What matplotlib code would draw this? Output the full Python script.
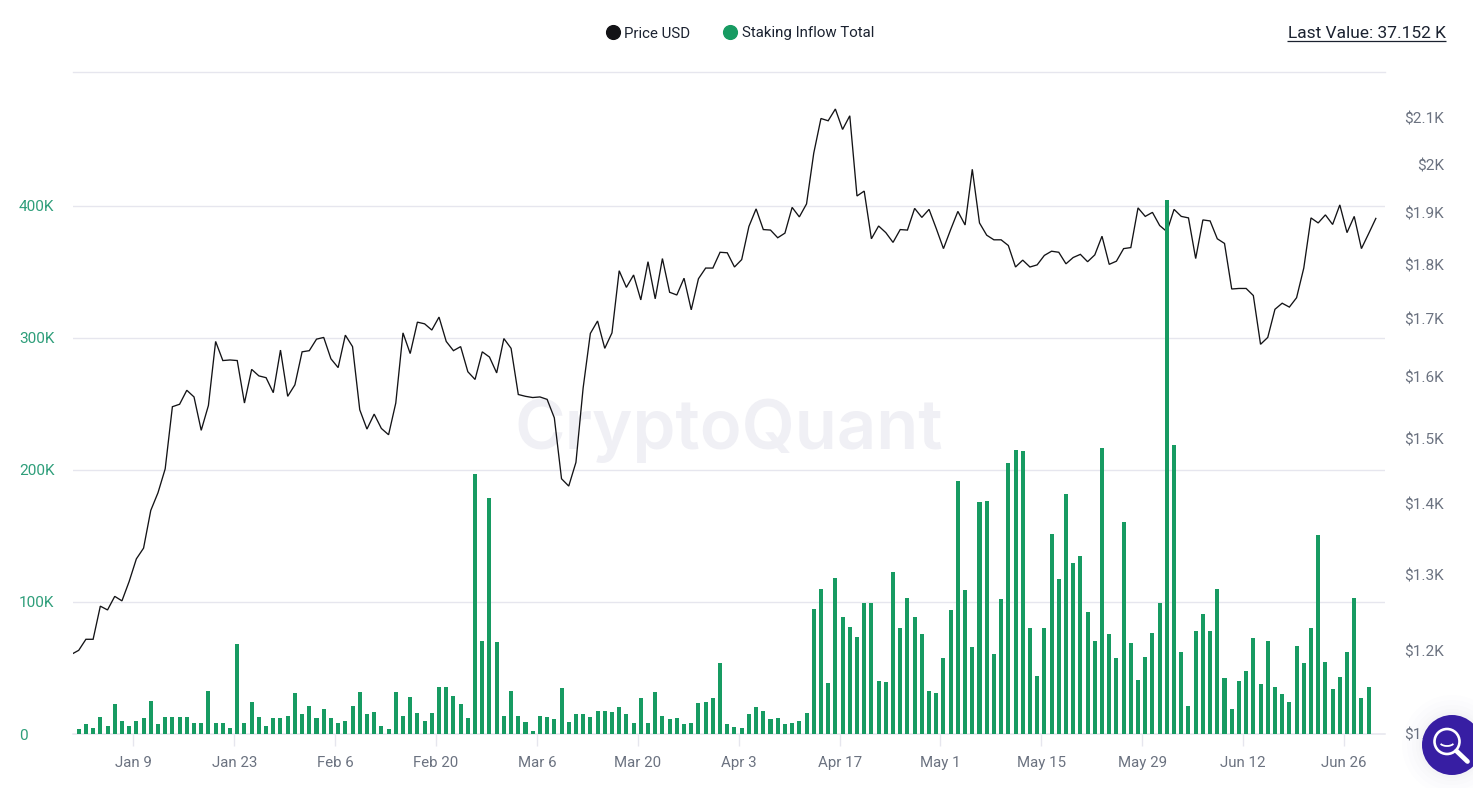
import matplotlib
matplotlib.use("Agg")
import matplotlib.pyplot as plt
import matplotlib.dates as mdates
from matplotlib.lines import Line2D
from matplotlib.patches import Circle, Arc
from matplotlib.ticker import FixedLocator, FixedFormatter, NullLocator
import pandas as pd

plt.rcParams["font.family"] = "Roboto"

# Daily price, Dec 31 2022 to Jun 30 2023 (USD)
price_usd = [
    1196, 1201, 1215, 1215, 1258, 1253, 1271, 1265, 1291, 1322, 1337, 1391, 1417, 1453, 1551, 1555,
    1578, 1567, 1513, 1553, 1661, 1628, 1629, 1628, 1557, 1613, 1602, 1599, 1574, 1646, 1568, 1587,
    1643, 1645, 1665, 1668, 1631, 1616, 1672, 1652, 1546, 1515, 1539, 1516, 1506, 1557,
    1676, 1640, 1695, 1692, 1681, 1704, 1661, 1645, 1652, 1609, 1596, 1643, 1634, 1607, 1666, 1649,
    1571, 1568, 1566, 1567, 1563, 1533, 1438, 1427, 1463, 1582, 1675, 1697, 1649, 1676, 1789, 1758,
    1781, 1735, 1806, 1737, 1812, 1749, 1744, 1775, 1717, 1774, 1794, 1794, 1824, 1823, 1796,
    1810, 1874, 1909, 1868, 1867, 1852, 1861, 1912, 1893, 1919, 2024, 2099, 2094, 2120, 2075, 2105,
    1935, 1945, 1850, 1875, 1862, 1843, 1868, 1867, 1910, 1892, 1908, 1870, 1831, 1868, 1904, 1877,
    1990, 1881, 1857, 1848, 1848, 1837, 1796, 1809, 1796, 1800, 1818, 1826, 1824, 1802, 1814,
    1820, 1806, 1819, 1855, 1801, 1807, 1831, 1833, 1911, 1894, 1902, 1876, 1864, 1908, 1894, 1891,
    1812, 1887, 1885, 1850, 1841, 1755, 1756, 1756, 1743, 1656, 1668, 1718, 1729, 1722, 1739, 1794,
    1891, 1881, 1897, 1878, 1917, 1862, 1894, 1831, 1860, 1890,
]

# Daily staking inflow, Jan 1 to Jun 29 2023 (thousands)
staking_inflow_k = [
    3.5, 7.3, 4.6, 13.2, 6.3, 22.5, 10.1, 6.3, 10.1, 12.1, 25.3, 7.3, 13.2, 13.2, 13.2, 13.2,
    8.3, 8.3, 32.9, 8.3, 8.3, 4.6, 68.0, 8.3, 24.3, 13.2, 6.3, 12.1, 12.1, 13.9, 31.1, 14.9,
    21.5, 12.1, 18.7, 12.1, 8.3, 10.1, 21.5, 31.9, 14.9, 17.0, 6.3, 3.5, 31.9,
    13.9, 28.3, 15.9, 10.1, 15.9, 35.9, 35.9, 29.1, 22.5, 12.1, 197.3, 70.8, 179.0, 70.0, 13.9, 32.9,
    13.9, 9.1, 2.5, 13.9, 13.2, 11.1, 34.7, 9.1, 14.9, 14.9, 13.2, 17.7, 17.7, 17.0, 20.7, 14.9,
    8.3, 27.3, 8.3, 31.9, 13.9, 11.1, 12.1, 7.3, 8.3, 23.5, 24.5, 27.3, 53.9, 7.3, 5.6,
    4.6, 14.9, 20.7, 17.7, 11.1, 12.1, 7.3, 8.3, 10.1, 15.9, 94.6, 109.8, 38.5, 118.1, 88.8, 81.2,
    73.6, 99.2, 99.2, 40.5, 39.5, 123.0, 80.2, 103.0, 88.8, 75.4, 32.9, 30.9, 57.4, 93.6, 192.0,
    108.8, 66.0, 176.0, 176.8, 60.5, 102.2, 205.6, 215.5, 214.7, 80.2, 44.3, 80.2, 151.7, 117.1,
    182.0, 129.5, 135.0, 92.6, 70.8, 217.0, 75.4, 57.4, 160.8, 68.8, 41.0, 58.4, 76.4, 99.2, 404.4,
    219.3, 62.2, 21.5, 78.4, 90.8, 78.4, 109.8, 42.3, 18.7, 40.5, 48.1, 72.6, 37.7, 70.8, 35.7,
    30.1, 24.5, 67.0, 53.6, 80.2, 151.0, 54.6, 33.9, 43.3, 62.2, 103.0, 27.3, 35.9,
]

date_ticks = ["2023-01-09", "2023-01-23", "2023-02-06", "2023-02-20", "2023-03-06", "2023-03-20",
              "2023-04-03", "2023-04-17", "2023-05-01", "2023-05-15", "2023-05-29", "2023-06-12",
              "2023-06-26"]
date_labels = ["Jan 9", "Jan 23", "Feb 6", "Feb 20", "Mar 6", "Mar 20", "Apr 3", "Apr 17",
               "May 1", "May 15", "May 29", "Jun 12", "Jun 26"]
inflow_ticks = [0, 100, 200, 300, 400]
inflow_labels = ["0", "100K", "200K", "300K", "400K"]
price_ticks = [1100, 1200, 1300, 1400, 1500, 1600, 1700, 1800, 1900, 2000, 2100]
price_labels = ["$1.1K", "$1.2K", "$1.3K", "$1.4K", "$1.5K", "$1.6K", "$1.7K", "$1.8K", "$1.9K", "$2K", "$2.1K"]

GREEN = "#179b62"
BLACK = "#131316"
GRID = "#e6e6ee"
W, H = 1473, 788

price_dates = pd.date_range("2022-12-31 10:00", periods=len(price_usd), freq="D")
bar_dates = pd.date_range("2023-01-01 10:00", periods=len(staking_inflow_k), freq="D")

fig = plt.figure(figsize=(W / 100, H / 100), dpi=100, facecolor="white")
rect = [73 / W, 1 - 734 / H, (1385 - 73) / W, (734 - 72) / H]

ax_price = fig.add_axes(rect, zorder=1)
ax = ax_price.twinx()
ax.set_zorder(2)
ax.patch.set_visible(False)
ax_price.patch.set_facecolor("white")

# The price axis sits on the right, the inflow axis on the left
ax.yaxis.tick_left()
ax_price.yaxis.tick_right()

ax_price.text(729, H - 449, "CryptoQuant", transform=None, ha="center", va="baseline",
              fontfamily="Inter", fontweight="semibold", fontsize=49.5, color="#f0f0f5", zorder=0)

ax_price.plot(price_dates, price_usd, color=BLACK, lw=0.95, zorder=3, solid_joinstyle="miter")
ax_price.set_yscale("log")
ax_price.set_ylim(1100, 2204)
ax_price.yaxis.set_major_locator(FixedLocator(price_ticks))
ax_price.yaxis.set_major_formatter(FixedFormatter(price_labels))
ax_price.yaxis.set_minor_locator(NullLocator())
ax_price.tick_params(axis="y", which="both", length=0, pad=42.5, labelsize=11.1, labelcolor="#6b7280")
for t in ax_price.get_yticklabels():
    t.set_ha("right")

ax.bar(bar_dates, staking_inflow_k, width=0.56, color=GREEN, zorder=3, linewidth=0)
ax.set_ylim(0, 501.5)
ax.set_yticks(inflow_ticks)
ax.set_yticklabels(inflow_labels)
ax.tick_params(axis="y", length=0, pad=38.9, labelsize=11.1, labelcolor="#2e9e7a")
for t in ax.get_yticklabels():
    t.set_ha("left")

# Gridlines follow the inflow scale but sit beneath the price line
for v in inflow_ticks[1:]:
    ax_price.plot([0, 1], [v, v], transform=ax.get_yaxis_transform(), color=GRID, lw=1.0,
                  zorder=1, scalex=False, scaley=False)

xmin = pd.Timestamp("2022-12-31 15:00")
xmax = pd.Timestamp("2023-07-01 16:30")
ax.set_xlim(xmin, xmax)
ax_price.set_xlim(xmin, xmax)
ax_price.xaxis.set_major_locator(FixedLocator(mdates.date2num(pd.to_datetime(date_ticks))))
ax_price.xaxis.set_major_formatter(FixedFormatter(date_labels))
ax_price.tick_params(axis="x", length=8.6, width=1.0, color=GRID, pad=7.2, labelsize=10.8, labelcolor="#6b7280")
ax.tick_params(axis="x", length=0, labelbottom=False)

for a in (ax, ax_price):
    for side, s in a.spines.items():
        s.set_visible(False)
for side, lw in (("bottom", 1.1), ("top", 1.0)):
    ax.spines[side].set_visible(True)
    ax.spines[side].set_color(GRID)
    ax.spines[side].set_linewidth(lw)

handles = [
    Line2D([], [], ls="none", marker="o", ms=9.9, color=BLACK, label="Price USD"),
    Line2D([], [], ls="none", marker="o", ms=9.9, color=GREEN, label="Staking Inflow Total"),
]
fig.legend(handles=handles, loc="center", bbox_to_anchor=(740 / W, 1 - 33.5 / H), ncol=2, frameon=False,
           fontsize=10.8, labelcolor="#1b2230", handlelength=0.93, handletextpad=0.3, columnspacing=2.2,
           borderpad=0, borderaxespad=0, markerscale=1)

# Page furniture in pixel coordinates
over = fig.add_axes([0, 0, 1, 1], zorder=10)
over.set_xlim(0, W)
over.set_ylim(H, 0)
over.axis("off")
over.patch.set_visible(False)
over.text(1446, 33, "Last Value: 37.152 K", ha="right", va="center", fontsize=12.5, color="#1b2230")
over.plot([1287, 1446], [41, 41], color="#1b2230", lw=0.9, solid_capstyle="butt")

for r, al in [(50, 0.006), (45, 0.008), (40, 0.01), (36, 0.012), (33, 0.015)]:
    over.add_patch(Circle((1452, 745), r, fc="#5a5a80", ec="none", alpha=al))
over.add_patch(Circle((1452, 745), 30, fc="#371ea3", ec="none"))
over.add_patch(Circle((1447, 741.5), 12.5, fc="none", ec="white", lw=1.9))
over.plot([1456.5, 1467.5], [751, 761.5], color="white", lw=3.4, solid_capstyle="round")
over.add_patch(Arc((1447, 741.5), 15, 9, theta1=20, theta2=160, ec="white", lw=1.3))

fig.savefig("out.png", dpi=100)
